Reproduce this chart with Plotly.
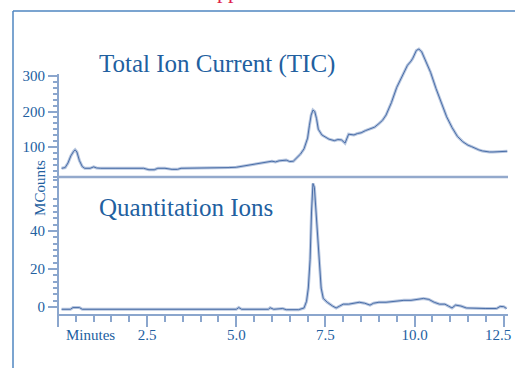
import plotly.graph_objects as go

# ---------------- data ----------------
tic_time = [0.10, 0.20, 0.28, 0.36, 0.44, 0.48, 0.53, 0.60, 0.68, 0.75, 0.90, 1.00, 1.08, 1.20,
            1.6, 2.0, 2.4, 2.55, 2.7, 2.8, 3.0, 3.2, 3.35, 3.45, 3.6, 3.9, 4.2, 4.5, 4.8, 5.0,
            5.2, 5.3, 5.4, 5.6, 5.7, 5.8, 6.0, 6.1, 6.2, 6.4, 6.5, 6.6, 6.7, 6.8, 6.9, 7.0, 7.05,
            7.1, 7.15, 7.2, 7.25, 7.3, 7.4, 7.5, 7.6, 7.75, 7.85, 7.95, 8.05, 8.15, 8.3, 8.4,
            8.5, 8.62, 8.75, 8.88, 9.0, 9.1, 9.2, 9.35, 9.5, 9.58, 9.65, 9.8, 9.9, 9.95, 10.05,
            10.12, 10.2, 10.3, 10.38, 10.45, 10.6, 10.75, 10.9, 11.05, 11.2, 11.35, 11.5, 11.6,
            11.7, 11.8, 11.9, 12.0, 12.1, 12.2, 12.3, 12.45, 12.6]
tic_counts = [40, 42, 55, 75, 88, 92, 86, 62, 45, 40, 40, 44, 41, 40,
              40, 40, 40, 36, 36, 40, 40, 37, 37, 40, 40, 40, 40, 41, 42, 43,
              46, 49, 50, 53, 55, 57, 60, 58, 61, 63, 59, 60, 70, 80, 95, 125, 160,
              190, 204, 200, 180, 150, 134, 128, 122, 118, 121, 120, 111, 136, 134, 138,
              140, 146, 150, 156, 166, 175, 190, 225, 268, 285, 300, 330, 342, 350, 372,
              376, 368, 345, 328, 310, 265, 225, 185, 155, 130, 115, 105, 101,
              96, 92, 89, 87, 86, 86, 86, 87, 88]

ion_time = [0.10, 0.35, 0.42, 0.60, 0.68, 1.5, 2.5, 3.5, 4.5, 5.0, 5.07, 5.15, 5.9, 5.95,
            6.05, 6.3, 6.4, 6.75, 6.9, 6.97, 7.02, 7.07, 7.11, 7.15, 7.19, 7.23, 7.28, 7.33,
            7.38, 7.44, 7.55, 7.7, 7.8, 7.9, 8.0, 8.15, 8.3, 8.45, 8.6, 8.75, 8.85, 9.0, 9.2,
            9.45, 9.7, 9.9, 10.05, 10.25, 10.4, 10.55, 10.7, 10.85, 10.95, 11.05, 11.15, 11.3,
            11.45, 11.7, 12.0, 12.3, 12.4, 12.5, 12.58]
ion_counts = [-1.2, -1.2, -0.3, -0.3, -1.2, -1.2, -1.2, -1.2, -1.2, -1.2, -0.3, -1.2, -1.2, -0.4,
              -1.2, -0.8, -1.4, -1.4, -0.5, 3, 10, 25, 50, 65, 63, 52, 35, 20,
              10, 4.5, 2.5, 0.5, -0.5, 0.5, 1.5, 1.5, 2.0, 2.5, 2.0, 1.0, 2.0, 2.5, 2.5,
              3.0, 3.5, 3.5, 4.0, 4.5, 4.0, 2.5, 1.5, 1.5, 0.5, -0.5, 1.0, 0.5,
              -0.5, -0.8, -0.8, -0.8, 0.3, 0.2, -0.8]

x_tick_vals = [0, 2.5, 5.0, 7.5, 10.0, 12.5]
x_tick_text = ["", "2.5", "5.0", "7.5", "10.0", ""]
last_tick_text = "12.5"
tic_tick_vals = [100, 200, 300]
ion_tick_vals = [0, 20, 40]

# ---------------- styling ----------------
TEXT = "#22609f"
AXIS = "#8ba6cd"
HALO = "rgba(175,192,220,0.9)"
LINE = "#4a6ea8"
SERIF = "Liberation Serif"

x_minor = [i * 0.5 for i in range(1, 26) if (i * 0.5) not in x_tick_vals]
tic_minor = [k * 100 / 6 for k in range(1, 19) if k % 6 != 0]
ion_minor = [k * 20 / 6 for k in range(1, 21) if k % 6 != 0]

fig = go.Figure()
for w, c in [(3.0, HALO), (1.0, LINE)]:
    fig.add_trace(go.Scatter(x=tic_time, y=tic_counts, mode="lines", xaxis="x", yaxis="y2",
                             line=dict(color=c, width=w), hoverinfo="skip"))
    fig.add_trace(go.Scatter(x=ion_time, y=ion_counts, mode="lines", xaxis="x", yaxis="y",
                             line=dict(color=c, width=w), hoverinfo="skip"))

tickfont = dict(family=SERIF, size=15, color=TEXT)

fig.update_layout(
    width=515, height=368,
    margin=dict(l=58, r=7, t=40, b=54, autoexpand=False),
    paper_bgcolor="white", plot_bgcolor="white",
    showlegend=False,
    xaxis=dict(domain=[0, 1], range=[0, 12.62], anchor="y", automargin=False,
               showline=True, linecolor=AXIS, linewidth=2,
               ticks="outside", tickvals=x_tick_vals, ticktext=x_tick_text,
               ticklen=11, tickwidth=1.5, tickcolor=AXIS, tickfont=tickfont,
               ticklabelstandoff=-5,
               minor=dict(tickmode="array", tickvals=x_minor, ticks="outside",
                          ticklen=6, tickwidth=1.5, tickcolor=AXIS, showgrid=False),
               showgrid=False, zeroline=False),
    yaxis=dict(domain=[0, 0.5], range=[-3.68, 68.4], anchor="x", automargin=False,
               showline=False, ticks="outside", tickvals=ion_tick_vals,
               ticklen=9, tickwidth=1.5, tickcolor=AXIS, tickfont=tickfont,
               minor=dict(tickmode="array", tickvals=ion_minor, ticks="outside",
                          ticklen=4, tickwidth=1.5, tickcolor=AXIS, showgrid=False),
               showgrid=False, zeroline=False),
    yaxis2=dict(domain=[0.5, 1], range=[15.5, 401.4], anchor="x", automargin=False,
                showline=False, ticks="outside", tickvals=tic_tick_vals,
                ticklen=9, tickwidth=1.5, tickcolor=AXIS, tickfont=tickfont,
                minor=dict(tickmode="array", tickvals=tic_minor, ticks="outside",
                           ticklen=4, tickwidth=1.5, tickcolor=AXIS, showgrid=False),
                showgrid=False, zeroline=False),
)

shapes = [
    dict(type="line", xref="paper", yref="paper", x0=0, x1=0, y0=-0.040, y1=0.876,
         line=dict(color=AXIS, width=2)),
    dict(type="line", xref="paper", yref="paper", x0=0, x1=1.0, y0=0.5, y1=0.5,
         line=dict(color="#93a9cc", width=2.6)),
    dict(type="line", xref="paper", yref="paper", x0=-0.1, x1=-0.1, y0=-0.21, y1=1.1058,
         line=dict(color="#4f86c0", width=1.5)),
    dict(type="line", xref="paper", yref="paper", x0=-0.1, x1=1.03, y0=1.1058, y1=1.1058,
         line=dict(color="#4f86c0", width=1.5)),
]
fig.update_layout(shapes=shapes)

ann = [
    dict(text="Total Ion Current (TIC)", x=0.0867, y=0.912, xanchor="left", yanchor="middle",
         font=dict(family=SERIF, size=25, color=TEXT)),
    dict(text="Quantitation Ions", x=0.0867, y=0.3905, xanchor="left", yanchor="middle",
         font=dict(family=SERIF, size=25, color=TEXT)),
    dict(text="Minutes", x=0.0733, y=(314 - 335) / 274, xanchor="center", yanchor="middle",
         font=dict(family=SERIF, size=15, color=TEXT)),
    dict(text=last_tick_text, x=(513 - 58) / 450, y=(314 - 335) / 274, xanchor="right",
         yanchor="middle", font=dict(family=SERIF, size=15, color=TEXT)),
    dict(text="MCounts", x=-0.04, y=0.46, xanchor="center", yanchor="middle", textangle=-90,
         font=dict(family=SERIF, size=15, color=TEXT)),
    dict(text="pp", x=(228 - 58) / 450, y=(314 - 5) / 274, xanchor="center", yanchor="bottom",
         font=dict(family=SERIF, size=22, color="#e0204a")),
]
for a in ann:
    a.update(xref="paper", yref="paper", showarrow=False)
fig.update_layout(annotations=ann)

fig.write_html("out.html")
